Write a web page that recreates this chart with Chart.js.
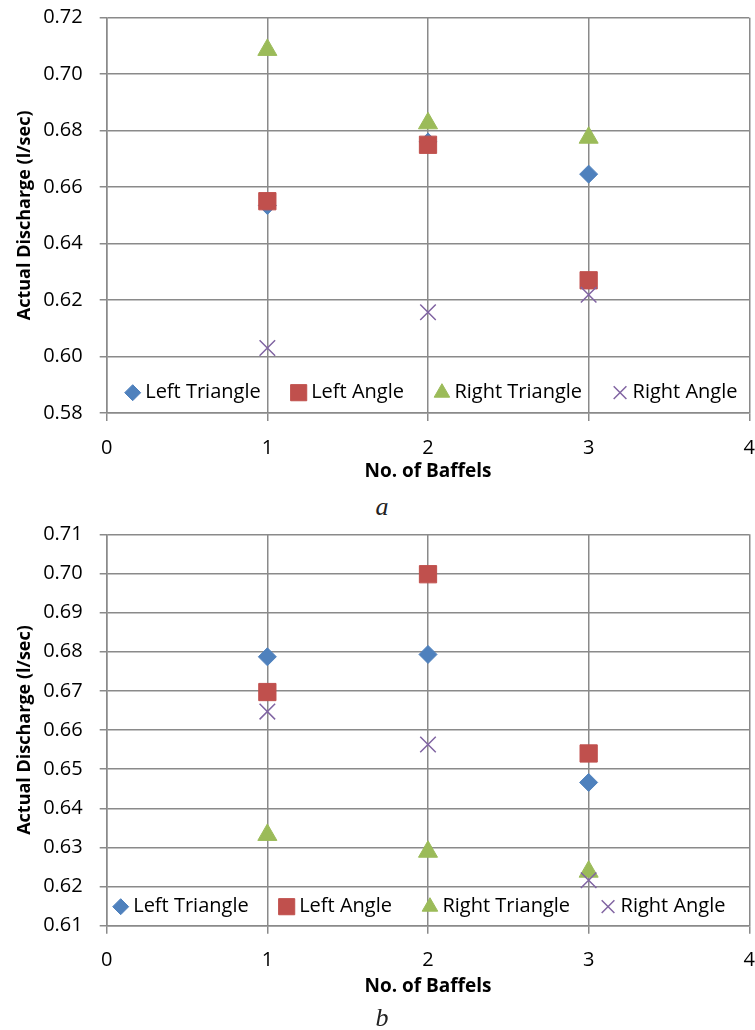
<!DOCTYPE html>
<html>
<head>
<meta charset="utf-8">
<script src="https://cdn.jsdelivr.net/npm/chart.js@4/dist/chart.umd.min.js"></script>
<style>
  body { margin: 0; background: #fff; width: 755px; height: 1030px; position: relative; overflow: hidden; }
  canvas { position: absolute; left: 0; }
  #chartA { top: 0; }
  #chartB { top: 515px; }
  .cap { position: absolute; width: 60px; margin-left: -30px; text-align: center;
         font: italic 26px "Liberation Serif", serif; color: #222; line-height: 30px; }
</style>
</head>
<body>
<canvas id="chartA" width="755" height="490"></canvas>
<div class="cap" style="left:382px; top:492px;">a</div>
<canvas id="chartB" width="755" height="490"></canvas>
<div class="cap" style="left:382px; top:1003px;">b</div>
<script>
// shared x values (number of baffles)
const baffles = [1, 2, 3];
const seriesNames = ['Left Triangle', 'Left Angle', 'Right Triangle', 'Right Angle'];

// chart a
const aLeftTriangle = [0.6535, 0.676, 0.6646];
const aLeftAngle = [0.655, 0.675, 0.627];
const aRightTriangle = [0.7086, 0.6826, 0.6775];
const aRightAngle = [0.603, 0.6157, 0.6219];
const aTicks = [0.58, 0.72, 0.02];

// chart b
const bLeftTriangle = [0.6787, 0.6793, 0.6466];
const bLeftAngle = [0.6697, 0.6998, 0.654];
const bRightTriangle = [0.6332, 0.6289, 0.6238];
const bRightAngle = [0.6647, 0.6563, 0.6216];
const bTicks = [0.61, 0.71, 0.01];

const xTicks = [0, 4, 1];

const gridGray = '#8a8a8a';
const styles = [
    { color: '#4F81BD', pointStyle: 'rectRot', radius: 9, legendRadius: 8 },
    { color: '#C0504D', pointStyle: 'rect', radius: 12.2, legendRadius: 11.4 },
    { color: '#9BBB59', pointStyle: 'triangle', radius: 11, legendRadius: 9 },
    { color: '#8064A2', pointStyle: 'crossRot', radius: 11, legendRadius: 9 },
];

// legend drawn inside the plot area, along the bottom, like the original
const insideLegend = {
    id: 'insideLegend',
    afterDatasetsDraw(chart, args, opts) {
        const { ctx, chartArea } = chart;
        const y = chartArea.bottom - opts.lift;
        let x = chartArea.left + opts.start;
        ctx.save();
        ctx.font = '20px "Open Sans"';
        ctx.textBaseline = 'middle';
        chart.data.datasets.forEach((ds, i) => {
            const st = styles[i];
            ctx.fillStyle = st.color;
            ctx.strokeStyle = st.color;
            ctx.lineWidth = st.pointStyle === 'crossRot' ? 1.5 : 1;
            Chart.helpers.drawPoint(ctx, {
                pointStyle: st.pointStyle,
                radius: st.legendRadius,
                rotation: 0,
                borderWidth: ctx.lineWidth,
            }, x + 7, y);
            ctx.fillStyle = '#000';
            ctx.fillText(ds.label, x + 19.5, y);
            x += 19.5 + ctx.measureText(ds.label).width + 31;
        });
        ctx.restore();
    }
};

function makeDatasets(values) {
    return values.map((vals, i) => {
        const st = styles[i];
        return {
            label: seriesNames[i],
            data: baffles.map((b, j) => ({ x: b, y: vals[j] })),
            pointStyle: st.pointStyle,
            pointRadius: st.radius,
            pointHoverRadius: st.radius,
            backgroundColor: st.color,
            borderColor: st.color,
            pointBorderWidth: st.pointStyle === 'crossRot' ? 1.5 : 1,
            showLine: false,
            order: 3 - i, // later series on top
        };
    });
}

function makeChart(id, values, yTicks, padTop, plotBottom, legendStart, legendLift) {
    return new Chart(document.getElementById(id), {
        type: 'scatter',
        data: { datasets: makeDatasets(values) },
        plugins: [insideLegend],
        options: {
            responsive: false,
            animation: false,
            devicePixelRatio: 1,
            layout: {
                autoPadding: false,
                padding: { top: padTop, right: 5.7, left: 0, bottom: 0 },
            },
            plugins: {
                legend: { display: false },
                tooltip: { enabled: false },
                insideLegend: { start: legendStart, lift: legendLift },
            },
            scales: {
                x: {
                    type: 'linear',
                    min: xTicks[0],
                    max: xTicks[1],
                    afterFit: (scale) => {
                        scale.height = 490 - plotBottom;
                        scale.paddingLeft = 0;
                        scale.paddingRight = 0;
                    },
                    ticks: {
                        stepSize: xTicks[2],
                        padding: 0,
                        color: '#000',
                        // tall line box pushes the labels down below the tick marks
                        font: { family: 'Open Sans', size: 20, lineHeight: 2.7 },
                    },
                    grid: { color: gridGray, lineWidth: 1.5, tickLength: 8 },
                    border: { color: gridGray, width: 1.5 },
                    title: {
                        display: true,
                        text: 'No. of Baffels',
                        color: '#000',
                        font: { family: 'Open Sans', size: 19, weight: 'bold' },
                        padding: { top: 0, bottom: 6.6 },
                    },
                },
                y: {
                    min: yTicks[0],
                    max: yTicks[1],
                    afterFit: (scale) => {
                        scale.width = 106.7;
                        scale.paddingTop = 0;
                        scale.paddingBottom = 0;
                    },
                    ticks: {
                        stepSize: yTicks[2],
                        padding: 17,
                        color: '#000',
                        font: { family: 'Open Sans', size: 20 },
                        callback: (v) => v.toFixed(2),
                    },
                    grid: { color: gridGray, lineWidth: 1.5, tickLength: 7 },
                    border: { color: gridGray, width: 1.5 },
                    title: {
                        display: true,
                        text: 'Actual Discharge (l/sec)',
                        color: '#000',
                        font: { family: 'Open Sans', size: 18, weight: 'bold' },
                        padding: { top: 14.2, bottom: 0 },
                    },
                },
            },
        },
    });
}

makeChart('chartA', [aLeftTriangle, aLeftAngle, aRightTriangle, aRightAngle], aTicks, 17.7, 413, 19, 20.3);
makeChart('chartB', [bLeftTriangle, bLeftAngle, bRightTriangle, bRightAngle], bTicks, 19.3, 410.7, 7, 19);
</script>
</body>
</html>
